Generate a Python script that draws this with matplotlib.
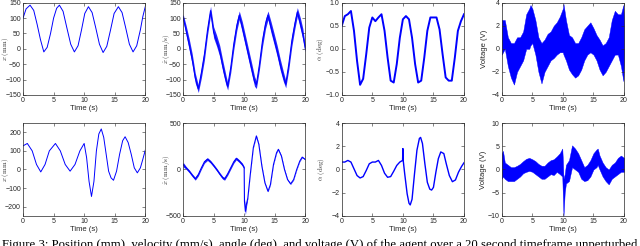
import numpy as np
import matplotlib.pyplot as plt

plt.rcParams['mathtext.fontset'] = 'cm'
plt.rcParams['font.family'] = ['Liberation Sans', 'DejaVu Sans']

# ---- top row (unperturbed) ----
pos_t = [0, 0.5, 1.15, 1.75, 2.3, 2.85, 3.4, 3.95, 4.5, 5.0, 5.5, 5.95, 6.55, 7.15, 7.8, 8.4,
         9.0, 9.55, 10.1, 10.7, 11.3, 11.9, 12.5, 13.1, 13.7, 14.3, 14.9, 15.6, 16.2, 16.8,
         17.4, 18.0, 18.6, 19.2, 19.6, 20.0]
pos_x = [100, 130, 142, 125, 80, 30, -10, 5, 50, 100, 132, 142, 122, 70, 15, -10,
         10, 60, 115, 137, 118, 68, 15, -12, 8, 60, 115, 137, 118, 68,
         15, -10, 10, 62, 105, 137]

vel_t = [0, 0.5, 1, 1.5, 2, 2.5, 3, 3.5, 4, 4.5, 5, 5.5, 6, 6.5, 7, 7.3, 7.8, 8.3, 8.8, 9.2,
         9.7, 10.2, 10.7, 11.2, 11.7, 12.0, 12.5, 13, 13.5, 13.9, 14.4, 14.9, 15.4, 15.9, 16.4,
         16.8, 17.3, 17.8, 18.3, 18.7, 19.2, 19.6, 20]
vel_x = [104, 60, 15, -34, -95, -130, -78, -18, 60, 124, 54, 26, -7, -56, -100, -122, -62, 15, 76, 109,
         70, 26, -18, -62, -106, -117, -51, 26, 82, 109, 70, 32, -7, -51, -89,
         -115, -51, 26, 82, 120, 82, 48, 0]
vel_noise = [10, 16, 18, 18, 16, 12, 16, 18, 16, 14, 18, 18, 18, 18, 16, 12, 16, 18, 16, 14,
             18, 18, 18, 18, 16, 12, 16, 18, 16, 14, 18, 18, 18, 18, 16,
             12, 16, 18, 16, 14, 18, 18, 10]

ang_t = np.arange(0, 20.5, 0.5)
ang_a = [0.5, 0.71, 0.75, 0.82, 0.39, -0.26, -0.78, -0.65, -0.12, 0.46,
         0.68, 0.6, 0.68, 0.75, 0.39, -0.19, -0.69, -0.73, -0.33, 0.24,
         0.64, 0.71, 0.64, 0.24, -0.33, -0.73, -0.69, -0.19, 0.39, 0.68,
         0.68, 0.68, 0.42, -0.12, -0.62, -0.69, -0.69, -0.19, 0.39, 0.6, 0.75]

volt_t = [0, 0.5, 1, 1.5, 2, 2.5, 3, 3.5, 4, 4.5, 4.7, 5, 5.5, 6, 6.5, 7, 7.5, 8, 8.5, 9, 9.5, 10,
          10.1, 10.5, 11, 11.5, 12, 12.5, 13, 13.5, 14, 14.5, 15, 15.5, 16, 16.5, 17, 17.5, 18,
          18.5, 19, 19.5, 19.9, 20]
volt_lo = [-0.5, 0, -1.5, -2.5, -3.1, -2, -1.5, -1, 0, 0, 0.3, 0.5, -0.5, -2, -3, -2, -1.5, -1, -0.8,
           -0.5, -0.3, -0.3, -0.5, -1, -1.8, -2.2, -2.5, -2.3, -1.8, -1, -0.5, -0.3, -0.5, -1, -1.8,
           -2.3, -2, -1.5, -1, -0.5, -0.5, -1.5, -2.8, -0.5]
volt_hi = [2.5, 2.5, 1, 0.5, 0.5, 1, 1, 1.5, 3, 3.5, 3.8, 3.5, 2.5, 1, 0.5, 0.8, 1.3, 1.5, 2, 2.3,
           2.8, 3.5, 3.9, 2.5, 1.2, 1, 0.5, 0.5, 1, 1.7, 2, 2.3, 1.8, 1.2, 0.8, 0.3, 0.5, 1, 2.5,
           3.3, 3, 3, 3.8, 2]

# ---- bottom row (perturbed at t = 10 s) ----
bpos_t = [0, 0.7, 1.5, 2.2, 2.9, 3.6, 4.3, 5.3, 6.1, 6.9, 7.7, 8.5, 9.3, 10.0, 10.4, 10.8, 11.2,
          11.6, 12.0, 12.4, 12.8, 13.2, 13.6, 14.0, 14.4, 14.8, 15.3, 15.8, 16.3, 16.7, 17.2,
          17.7, 18.2, 18.7, 19.2, 19.6, 20]
bpos_x = [127, 140, 100, 27, -13, 27, 100, 140, 100, 27, -9, 27, 100, 140, 64, -64, -145,
          -64, 100, 191, 218, 173, 82, -9, -45, -58, -9, 82, 155, 176, 145,
          82, 9, -18, 9, 55, 104]

bvel_t = [0, 0.5, 1, 1.5, 2, 2.5, 3, 3.5, 4, 4.5, 5, 5.5, 6, 6.5, 6.8, 7.3, 7.8, 8.3, 8.7, 9.2,
          9.7, 10.0, 10.05, 10.2, 10.35, 10.6, 11.0, 11.5, 12.0, 12.4, 12.9, 13.4, 13.9, 14.3,
          14.8, 15.3, 15.6, 16.1, 16.6, 17.1, 17.6, 18.1, 18.6, 19.1, 19.5, 20]
bvel_x = [54, 18, -18, -61, -100, -54, 18, 83, 112, 83, 43, 0, -47, -90, -100, -47, 18, 83, 119, 90,
          54, 18, -343, -450, -380, -307, -54, 235, 361, 271, 36, -144, -235, -162,
          54, 180, 217, 144, 0, -108, -155, -108, 0, 90, 133, 108]
bvel_noise = [25, 15, 15, 15, 15, 15, 15, 15, 15, 15, 15, 15, 15, 15, 15, 15, 15, 15, 15, 15,
              15, 15, 30, 40, 30, 5, 5, 5, 5, 5, 5, 5, 5, 5,
              5, 5, 5, 5, 5, 5, 5, 5, 5, 5, 5, 5]

bang_t = [0, 0.5, 1, 1.5, 2, 2.5, 3, 3.5, 4, 4.5, 5, 5.5, 6, 6.5, 7, 7.5, 8, 8.5, 9, 9.5,
          9.95, 10.0, 10.05, 10.3, 10.7, 11.0, 11.2, 11.5, 11.9, 12.3, 12.7, 12.9, 13.2, 13.6,
          14.0, 14.4, 14.7, 15.0, 15.4, 15.8, 16.2, 16.7, 17.1, 17.6, 18.1, 18.6, 19.1, 19.6, 20]
bang_a = [0.64, 0.64, 0.78, 0.64, 0.06, -0.52, -0.73, -0.61, -0.09, 0.49, 0.64, 0.64, 0.78, 0.35,
          -0.32, -0.67, -0.61, -0.15, 0.35, 0.64, 0.78, 1.8, 0.8, -0.38, -2.1, -2.9, -3.05, -2.56,
          -0.38, 1.66, 2.67, 2.76, 2.24, 0.49, -1.1, -1.69, -1.77, -1.54, -0.23, 0.93, 1.51, 1.37,
          0.49, -0.52, -1.05, -0.9, -0.23, 0.26, 0.58]

bvolt_t = [0, 0.2, 0.5, 1, 1.5, 2, 2.5, 3, 3.5, 4, 4.5, 5, 5.5, 6, 6.5, 7, 7.5, 8, 8.5, 9,
           9.5, 9.9, 10.0, 10.1, 10.3, 10.5, 11, 11.5, 12, 12.5, 13, 13.5, 14, 14.5, 15, 15.5,
           15.7, 16, 16.5, 17, 17.5, 18, 18.5, 19, 19.5, 20]
bvolt_lo = [-2, -1.5, -2, -2.5, -2.5, -2.5, -2, -1.5, -0.8, -0.5, -0.3, -0.5, -1, -1.5, -2, -2,
            -1.5, -1, -1.2, -0.5, -1, -1.5, -6, -10, -5, -3, -2.5, 0.5, 0, -0.5, -2, -2.5, -2.3,
            -1.5, 0, 0.5, 1, 0, -1.5, -2.5, -3.2, -2, -1.5, -1, -0.5, -0.5]
bvolt_hi = [3.5, 4, 1.5, 1, 0.5, 0.5, 0.8, 1.2, 1.8, 2.3, 2.5, 2.2, 1.8, 1.2, 0.8, 0.8, 1.5, 2,
            2.2, 2.8, 3.5, 4.5, 2, -2, -1, 1, 2, 5.2, 4.5, 3.5, 2, 0.5, 1, 2, 3.5, 4.3, 4.5, 3,
            1.5, 0.5, 0, 1, 1.5, 2.5, 3, 2.5]

caption = ("Figure 3: Position (mm), velocity (mm/s), angle (deg), and voltage (V) "
           "of the agent over a 20 second timeframe unperturbed")

fig = plt.figure(figsize=(6.4, 2.46), dpi=100)

lefts = [0.036, 0.286, 0.534, 0.784]
width = 0.191
tops = [(0.614, 0.375), (0.122, 0.378)]


def style(ax, ylim, yticks, ylabel, label_x, math=True):
    ax.set_xlim(0, 20)
    ax.set_ylim(*ylim)
    ax.set_xticks([0, 5, 10, 15, 20])
    ax.set_yticks(yticks)
    ax.tick_params(direction='in', length=2, width=0.4, labelsize=5,
                   top=True, right=True, pad=1.5, colors='#262626')
    for s in ax.spines.values():
        s.set_linewidth(0.5)
        s.set_color('#262626')
    ax.set_xlabel('Time (s)', fontsize=5.5, labelpad=1, color='#262626')
    if math:
        ax.set_ylabel(ylabel, fontsize=5, color='#262626')
    else:
        ax.set_ylabel(ylabel, fontsize=5.5, color='#262626')
    ax.yaxis.set_label_coords(label_x, 0.5)


axs = [[fig.add_axes([l, b, width, h]) for l in lefts] for (b, h) in tops]

# top row
ax = axs[0][0]
ax.plot(pos_t, pos_x, color='b', lw=0.7)
style(ax, (-150, 150), [-150, -100, -50, 0, 50, 100, 150], r'$x\ (\mathrm{mm})$', -0.10)

ax = axs[0][1]
v = np.array(vel_x)
n = np.array(vel_noise)
ax.fill_between(vel_t, v - n, v + n, color='b', lw=0, alpha=0.85)
ax.plot(vel_t, vel_x, color='b', lw=0.8)
style(ax, (-150, 150), [-150, -100, -50, 0, 50, 100, 150], r'$\dot{x}\ (\mathrm{mm/s})$', -0.09)

ax = axs[0][2]
ax.plot(ang_t, ang_a, color='b', lw=1.4)
style(ax, (-1, 1), [-1, -0.5, 0, 0.5, 1], r'$\alpha\ (\mathrm{deg})$', -0.13)

ax = axs[0][3]
ax.fill_between(volt_t, volt_lo, volt_hi, color='b', lw=0.3)
style(ax, (-4, 4), [-4, -2, 0, 2, 4], 'Voltage (V)', -0.11, math=False)

# bottom row
ax = axs[1][0]
ax.plot(bpos_t, bpos_x, color='b', lw=0.7)
style(ax, (-250, 250), [-200, -100, 0, 100, 200], r'$x\ (\mathrm{mm})$', -0.10)

ax = axs[1][1]
v = np.array(bvel_x)
n = np.array(bvel_noise)
ax.fill_between(bvel_t, v - n, v + n, color='b', lw=0, alpha=0.85)
ax.plot(bvel_t, bvel_x, color='b', lw=0.8)
style(ax, (-500, 500), [-500, 0, 500], r'$\dot{x}\ (\mathrm{mm/s})$', -0.09)

ax = axs[1][2]
ax.plot(bang_t, bang_a, color='b', lw=1.0)
style(ax, (-4, 4), [-4, -2, 0, 2, 4], r'$\alpha\ (\mathrm{deg})$', -0.12)

ax = axs[1][3]
ax.fill_between(bvolt_t, bvolt_lo, bvolt_hi, color='b', lw=0.3)
style(ax, (-10, 10), [-10, -5, 0, 5, 10], 'Voltage (V)', -0.12, math=False)

fig.text(0.003, 0.005, caption, fontsize=9.15, family='Liberation Serif',
         ha='left', va='center', color='black')

fig.savefig('out.png', dpi=100)
